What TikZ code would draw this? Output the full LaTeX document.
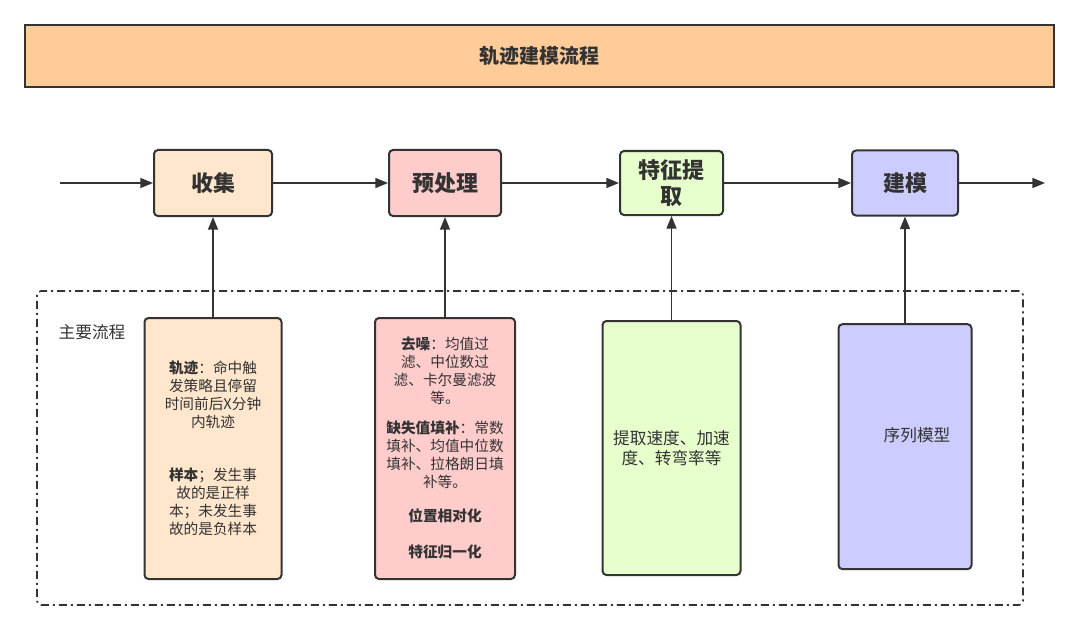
\documentclass[tikz,border=0pt]{standalone}
\usepackage{fontspec}
\setmainfont{Noto Sans CJK SC}
\usetikzlibrary{arrows.meta, positioning}

\definecolor{linegray}{HTML}{333333}
\definecolor{titlefill}{HTML}{FFCC99}
\definecolor{collectfill}{HTML}{FFE6CC}
\definecolor{prepfill}{HTML}{FFCCCC}
\definecolor{featfill}{HTML}{E6FFCC}
\definecolor{modelfill}{HTML}{CCCCFF}

\begin{document}
\begin{tikzpicture}[
    x=0.75pt, y=-0.75pt,
    box/.style={rectangle, draw=linegray, line width=1.5pt, rounded corners=3pt, align=center, text=linegray, inner sep=0pt, font=\fontsize{16.5}{20}\selectfont\bfseries},
    detail/.style={rectangle, draw=linegray, line width=1.5pt, rounded corners=3pt, align=center, text=linegray, inner sep=0pt, font=\fontsize{11}{13.5}\selectfont},
    frame/.style={rectangle, draw=linegray, line width=1.2pt, rounded corners=3pt, dash pattern=on 6pt off 3pt on 1.5pt off 3pt},
    arrow/.style={-{Triangle[length=9.5pt, width=7.5pt]}, draw=linegray, line width=1.2pt}
]
\useasboundingbox (0,0) rectangle (1080,631);

\node[rectangle, draw=linegray, line width=1.5pt, fill=titlefill, text=linegray, minimum width=771.75pt, minimum height=46.5pt, font=\fontsize{15}{18}\selectfont\bfseries] (title) at (539.5,56) {轨迹建模流程};

\node[frame, minimum width=739.5pt, minimum height=235.5pt] (mainflow) at (530,448) {};
\node[anchor=west, text=linegray, font=\fontsize{12.5}{15}\selectfont] (flowlabel) at (54,332) {主要流程};

\node[box, fill=collectfill, minimum width=88.5pt, minimum height=49.5pt] (collect) at (213,183) {收集};
\node[box, fill=prepfill, minimum width=84pt, minimum height=49.5pt] (preproc) at (445,183) {预处理};
\node[box, fill=featfill, minimum width=77.25pt, minimum height=48pt] (feature) at (671.5,183) {特征提\\取};
\node[box, fill=modelfill, minimum width=79.5pt, minimum height=48.75pt] (model) at (905,183) {建模};

\coordinate (start) at (60,183);
\coordinate (finish) at (1045,183);

\node[detail, fill=collectfill, minimum width=102.75pt, minimum height=195.75pt, below=75pt of collect] (samples) {\textbf{轨迹}：命中触\\发策略且停留\\时间前后X分钟\\内轨迹\\[26pt]\textbf{样本}；发生事\\故的是正样\\本；未发生事\\故的是负样本};
\node[detail, fill=prepfill, minimum width=105pt, minimum height=195.75pt, below=75pt of preproc] (cleaning) {\textbf{去噪}：均值过\\滤、中位数过\\滤、卡尔曼滤波\\等。\\[9pt]\textbf{缺失值填补}：常数\\填补、均值中位数\\填补、拉格朗日填\\补等。\\[12pt]\textbf{位置相对化}\\[13.5pt]\textbf{特征归一化}};
\node[detail, fill=featfill, minimum width=103.5pt, minimum height=190.5pt, below=78pt of feature, font=\fontsize{12.5}{15}\selectfont] (kinematics) {提取速度、加速\\度、转弯率等};
\node[detail, fill=modelfill, minimum width=99.75pt, minimum height=183.75pt, below=80pt of model, font=\fontsize{12.5}{15}\selectfont] (sequence) {\hspace*{18pt}序列模型\\[4pt]};

\draw[arrow] (start) -- (collect);
\draw[arrow] (collect) -- (preproc);
\draw[arrow] (preproc) -- (feature);
\draw[arrow] (feature) -- (model);
\draw[arrow] (model) -- (finish);

\draw[arrow] (samples) -- (collect);
\draw[arrow] (cleaning) -- (preproc);
\draw[arrow] (kinematics) -- (feature);
\draw[arrow] (sequence) -- (model);
\end{tikzpicture}
\end{document}
